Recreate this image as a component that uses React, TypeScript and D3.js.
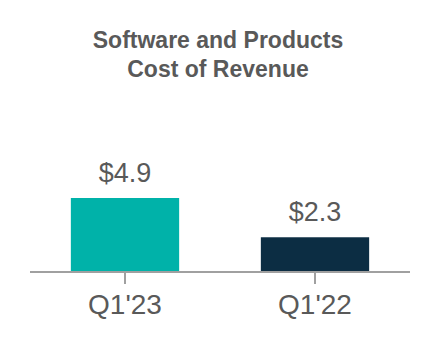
import React, { useEffect, useRef } from "react";
import * as d3 from "d3";

const categories = ["Q1'23", "Q1'22"];
const values = [4.9, 2.3];
const barColors = ["#00b2a9", "#0c2d43"];
const titleLines = ["Software and Products", "Cost of Revenue"];

export default function App() {
  const ref = useRef<SVGSVGElement>(null);

  useEffect(() => {
    const width = 440;
    const height = 350;
    const axisY = 272;
    const font = "'Liberation Sans', Arial, sans-serif";

    const svg = d3.select(ref.current);
    svg.selectAll("*").remove();

    svg
      .append("rect")
      .attr("width", width)
      .attr("height", height)
      .attr("fill", "#fff");

    // title
    svg
      .append("g")
      .selectAll("text")
      .data(titleLines)
      .enter()
      .append("text")
      .attr("x", 218)
      .attr("y", (d, i) => 48 + i * 29)
      .attr("text-anchor", "middle")
      .style("font-family", font)
      .style("font-weight", "bold")
      .style("font-size", "23px")
      .style("fill", "#595959")
      .text((d) => d);

    const x = d3
      .scaleBand<string>()
      .domain(categories)
      .range([30, 410])
      .paddingInner(0.43)
      .paddingOuter(0.215);

    const y = d3.scaleLinear().domain([0, 4.9]).range([axisY, 198]);

    const data = categories.map((c, i) => ({ cat: c, value: values[i], color: barColors[i] }));

    svg
      .append("g")
      .selectAll("rect")
      .data(data)
      .enter()
      .append("rect")
      .attr("x", (d) => x(d.cat)!)
      .attr("width", x.bandwidth())
      .attr("y", (d) => y(d.value))
      .attr("height", (d) => axisY - y(d.value))
      .attr("fill", (d) => d.color);

    // value labels
    svg
      .append("g")
      .selectAll("text")
      .data(data)
      .enter()
      .append("text")
      .attr("x", (d) => x(d.cat)! + x.bandwidth() / 2)
      .attr("y", (d) => y(d.value) - 16)
      .attr("text-anchor", "middle")
      .style("font-family", font)
      .style("font-size", "27px")
      .style("fill", "#595959")
      .text((d) => `$${d.value.toFixed(1)}`);

    // axis
    const axis = svg
      .append("g")
      .attr("transform", `translate(0,${axisY})`)
      .call(d3.axisBottom(x).tickSize(12).tickSizeOuter(0));
    axis.select(".domain").attr("stroke", "#a0a0a0").attr("stroke-width", 2).attr("d", "M30,0H410");
    axis.selectAll(".tick line").attr("stroke", "#a0a0a0").attr("stroke-width", 2);
    axis
      .selectAll(".tick text")
      .attr("y", 41.5)
      .attr("dy", 0)
      .style("font-family", font)
      .style("font-size", "28px")
      .style("fill", "#595959");
  }, []);

  return (
    <svg
      ref={ref}
      width={440}
      height={350}
      style={{ position: "absolute", left: 0, top: 0 }}
    />
  );
}
